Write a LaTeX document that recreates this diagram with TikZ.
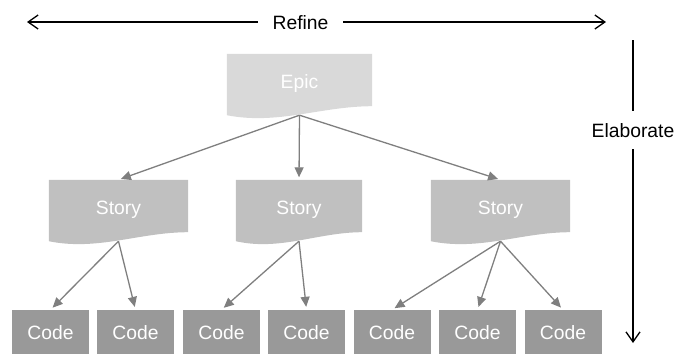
\documentclass[tikz,border=0pt]{standalone}
\usepackage{fontspec}
\setmainfont{Liberation Sans}
\usetikzlibrary{arrows.meta,calc,backgrounds}
\definecolor{epicgray}{HTML}{D9D9D9}
\definecolor{storygray}{HTML}{C0C0C0}
\definecolor{codegray}{HTML}{999999}
\definecolor{linkgray}{HTML}{7F7F7F}
\tikzset{
  docbox/.style={rectangle,inner sep=0pt,minimum height=61pt,text=white,text height=14pt,text depth=7pt},
  codebox/.style={rectangle,fill=codegray,inner sep=0pt,minimum width=77pt,minimum height=44pt,text=white,text height=14pt,text depth=0pt},
  link/.style={draw=linkgray,line width=1.3pt,-{Triangle[length=10pt,width=9pt]},shorten >=2.5pt},
  axis/.style={line width=1.3pt,-{Straight Barb[length=10pt,width=14pt]}},
  axislabel/.style={text height=14pt,text depth=0pt}
}
\begin{document}
\begin{tikzpicture}[x=1pt,y=-1pt,font=\fontsize{19.3}{23}\selectfont]
  \useasboundingbox (0,0) rectangle (689,354);

  \node[axislabel,inner xsep=14.5pt](refine)at(300.5,22){Refine};
  \coordinate (rleft) at (27,22);
  \coordinate (rright) at (606,22);
  \draw[axis] (refine.west) -- (rleft);
  \draw[axis] (refine.east) -- (rright);

  \node[axislabel,inner ysep=12pt](elab)at(633,130){Elaborate};
  \coordinate (etop) at (633,40);
  \coordinate (ebot) at (633,343);
  \draw[line width=1.3pt] (elab.north) -- (etop);
  \draw[axis] (elab.south) -- (ebot);

  \node[docbox,minimum width=145pt](epic)at(299.5,84.5){Epic};
  \node[docbox,minimum width=139pt](story1)at(118.5,210.5){Story};
  \node[docbox,minimum width=126pt](story2)at(299,210.5){Story};
  \node[docbox,minimum width=139pt](story3)at(500.5,210.5){Story};
  \foreach \i/\x in {1/50.5,2/135.5,3/221.5,4/306.5,5/392,6/477.5,7/563}
    \node[codebox](code\i)at(\x,332){Code};

  \begin{scope}[on background layer]
    \foreach \n/\c in {epic/epicgray,story1/storygray,story2/storygray,story3/storygray}
      \fill[\c] (\n.north west) -- (\n.north east) -- ($(\n.south east)+(0,-9)$)
        .. controls ($(\n.south west)!0.65!(\n.south east)+(0,-9)$) and ($(\n.south west)!0.35!(\n.south east)+(0,10)$) .. (\n.south west) -- cycle;
  \end{scope}

  \foreach \s in {story1,story2,story3}
    \draw[link] (epic.south) -- (\s.north);
  \foreach \s/\c in {story1/code1,story1/code2,story2/code3,story2/code4,story3/code5,story3/code6,story3/code7}
    \draw[link,shorten >=3pt] (\s.south) -- (\c.north);
\end{tikzpicture}
\end{document}
